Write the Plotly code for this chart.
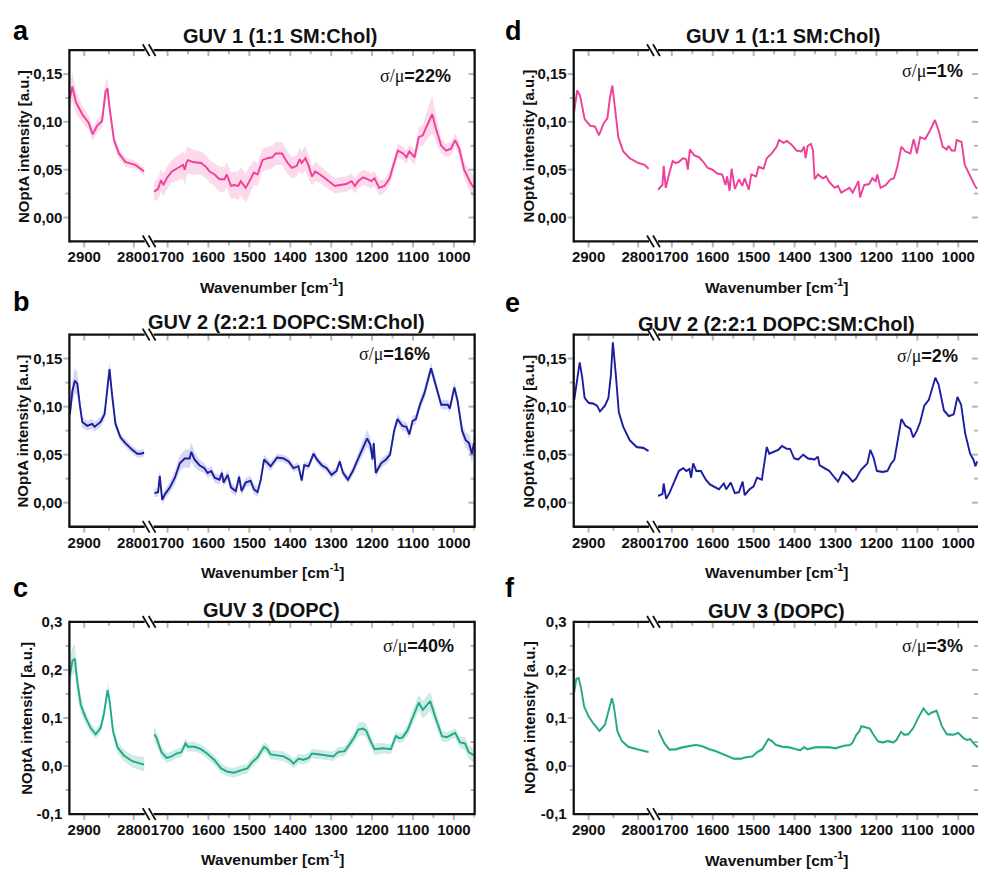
import plotly.graph_objects as go

W, H = 984, 875

# ---------------- data ----------------
# Panel a: GUV 1 (1:1 SM:Chol), averaged, sigma/mu = 22%
wn_a1 = [2929, 2924, 2917, 2904, 2891, 2883, 2874, 2864, 2857, 2853, 2849, 2840, 2830, 2817, 2797, 2779]
int_a1 = [0.125, 0.137, 0.121, 0.108, 0.099, 0.087, 0.096, 0.101, 0.132, 0.135, 0.115, 0.081, 0.067, 0.058, 0.055, 0.048]
sd_a1 = [0.013, 0.015, 0.012, 0.009, 0.007, 0.007, 0.007, 0.007, 0.010, 0.010, 0.009, 0.006, 0.005, 0.005, 0.004, 0.004]
wn_a2 = [1733, 1723, 1716, 1710, 1702, 1690, 1674, 1662, 1658, 1654, 1650, 1638, 1618, 1606, 1597, 1585, 1573, 1561, 1555, 1545,
         1537, 1527, 1521, 1509, 1501, 1489, 1480, 1468, 1456, 1444, 1436, 1420, 1408, 1396, 1384, 1377, 1372, 1363, 1355, 1347,
         1339, 1327, 1315, 1303, 1291, 1279, 1263, 1250, 1242, 1234, 1222, 1210, 1202, 1194, 1183, 1170, 1157, 1149, 1137, 1124,
         1116, 1109, 1096, 1086, 1076, 1068, 1053, 1044, 1031, 1019, 1007, 997, 987, 975, 967, 959, 951]
int_a2 = [0.027, 0.030, 0.039, 0.034, 0.041, 0.048, 0.052, 0.055, 0.050, 0.057, 0.060, 0.058, 0.057, 0.053, 0.048, 0.045, 0.040, 0.040, 0.045, 0.033,
          0.034, 0.033, 0.038, 0.031, 0.037, 0.047, 0.045, 0.060, 0.062, 0.063, 0.067, 0.067, 0.058, 0.052, 0.054, 0.061, 0.057, 0.062, 0.054, 0.043,
          0.048, 0.045, 0.041, 0.037, 0.033, 0.034, 0.035, 0.038, 0.033, 0.038, 0.042, 0.040, 0.038, 0.041, 0.031, 0.033, 0.041, 0.053, 0.070, 0.067,
          0.063, 0.069, 0.063, 0.084, 0.086, 0.094, 0.108, 0.093, 0.075, 0.070, 0.072, 0.081, 0.072, 0.050, 0.043, 0.036, 0.031]
sd_a2 = [0.010, 0.011, 0.012, 0.012, 0.012, 0.012, 0.013, 0.014, 0.016, 0.015, 0.014, 0.013, 0.012, 0.012, 0.012, 0.012, 0.013, 0.013, 0.013, 0.014,
         0.014, 0.015, 0.015, 0.015, 0.015, 0.013, 0.012, 0.012, 0.012, 0.012, 0.012, 0.012, 0.012, 0.011, 0.011, 0.012, 0.012, 0.013, 0.012, 0.010,
         0.010, 0.009, 0.009, 0.008, 0.008, 0.008, 0.008, 0.008, 0.008, 0.008, 0.008, 0.008, 0.008, 0.008, 0.008, 0.007, 0.007, 0.007, 0.007, 0.007,
         0.007, 0.007, 0.008, 0.010, 0.011, 0.014, 0.020, 0.014, 0.008, 0.007, 0.007, 0.007, 0.008, 0.009, 0.010, 0.011, 0.012]

# Panel b: GUV 2 (2:2:1 DOPC:SM:Chol), averaged, sigma/mu = 16%
wn_b1 = [2929, 2924, 2919, 2914, 2909, 2904, 2894, 2884, 2879, 2867, 2859, 2854, 2849, 2844, 2837, 2827, 2817, 2803, 2793, 2786, 2779]
int_b1 = [0.092, 0.116, 0.127, 0.124, 0.102, 0.084, 0.080, 0.082, 0.079, 0.084, 0.092, 0.116, 0.139, 0.113, 0.082, 0.068, 0.062, 0.055, 0.051, 0.051, 0.052]
sd_b1 = [0.008, 0.011, 0.013, 0.012, 0.008, 0.006, 0.005, 0.005, 0.005, 0.005, 0.006, 0.007, 0.008, 0.007, 0.005, 0.004, 0.004, 0.004, 0.004, 0.004, 0.004]
wn_b2 = [1732, 1723, 1719, 1713, 1706, 1694, 1682, 1670, 1658, 1646, 1642, 1634, 1622, 1610, 1602, 1593, 1585, 1573, 1567, 1563,
         1553, 1545, 1533, 1525, 1519, 1509, 1497, 1489, 1480, 1472, 1464, 1456, 1448, 1432, 1416, 1404, 1392, 1380, 1372, 1366,
         1355, 1343, 1335, 1323, 1311, 1299, 1287, 1279, 1271, 1259, 1247, 1234, 1222, 1212, 1204, 1199, 1196, 1191, 1178, 1166,
         1156, 1146, 1138, 1126, 1116, 1109, 1101, 1093, 1083, 1072, 1056, 1049, 1031, 1015, 1010, 999, 991, 980, 971, 963, 956, 951]
int_b2 = [0.010, 0.011, 0.028, 0.003, 0.009, 0.016, 0.026, 0.041, 0.046, 0.046, 0.053, 0.045, 0.039, 0.036, 0.031, 0.033, 0.026, 0.024, 0.031, 0.021,
          0.029, 0.016, 0.012, 0.027, 0.012, 0.021, 0.023, 0.014, 0.011, 0.024, 0.045, 0.041, 0.038, 0.047, 0.046, 0.043, 0.036, 0.038, 0.023, 0.039,
          0.038, 0.051, 0.045, 0.039, 0.036, 0.029, 0.033, 0.043, 0.031, 0.024, 0.033, 0.046, 0.058, 0.067, 0.060, 0.045, 0.062, 0.031, 0.041, 0.045,
          0.050, 0.075, 0.087, 0.080, 0.079, 0.071, 0.085, 0.087, 0.102, 0.114, 0.140, 0.130, 0.102, 0.102, 0.098, 0.120, 0.106, 0.075, 0.065, 0.062, 0.051, 0.062]
sd_b2 = [0.004, 0.005, 0.006, 0.005, 0.005, 0.006, 0.007, 0.008, 0.009, 0.010, 0.010, 0.008, 0.006, 0.005, 0.005, 0.005, 0.005, 0.005, 0.005, 0.005,
         0.005, 0.005, 0.005, 0.005, 0.005, 0.005, 0.005, 0.005, 0.005, 0.005, 0.005, 0.005, 0.005, 0.004, 0.004, 0.004, 0.004, 0.004, 0.004, 0.004,
         0.004, 0.004, 0.004, 0.004, 0.004, 0.004, 0.004, 0.004, 0.004, 0.004, 0.005, 0.006, 0.008, 0.009, 0.008, 0.006, 0.006, 0.005, 0.005, 0.005,
         0.005, 0.005, 0.005, 0.005, 0.005, 0.005, 0.005, 0.005, 0.006, 0.006, 0.006, 0.006, 0.005, 0.005, 0.005, 0.006, 0.006, 0.007, 0.008, 0.009, 0.010, 0.011]

# Panel c: GUV 3 (DOPC), averaged, sigma/mu = 40%
wn_c1 = [2929, 2924, 2919, 2914, 2907, 2897, 2887, 2877, 2867, 2860, 2853, 2849, 2842, 2833, 2820, 2803, 2779]
int_c1 = [0.188, 0.219, 0.223, 0.175, 0.127, 0.100, 0.079, 0.066, 0.079, 0.110, 0.158, 0.137, 0.073, 0.039, 0.022, 0.010, 0.003]
sd_c1 = [0.025, 0.030, 0.030, 0.025, 0.018, 0.012, 0.010, 0.009, 0.010, 0.012, 0.015, 0.014, 0.012, 0.012, 0.012, 0.013, 0.015]
wn_c2 = [1733, 1727, 1715, 1702, 1690, 1678, 1666, 1656, 1650, 1634, 1618, 1602, 1585, 1569, 1553, 1537, 1521, 1505, 1493, 1480,
         1470, 1464, 1456, 1448, 1432, 1416, 1400, 1392, 1380, 1368, 1355, 1347, 1327, 1307, 1295, 1283, 1267, 1255, 1242, 1234,
         1222, 1214, 1206, 1194, 1174, 1154, 1142, 1134, 1126, 1114, 1098, 1086, 1076, 1066, 1058, 1046, 1029, 1017, 997, 985, 973, 964, 951]
int_c2 = [0.066, 0.059, 0.029, 0.017, 0.020, 0.026, 0.029, 0.047, 0.040, 0.040, 0.035, 0.025, 0.012, -0.005, -0.012, -0.014, -0.009, -0.005, 0.008, 0.018,
          0.032, 0.040, 0.035, 0.024, 0.022, 0.020, 0.012, 0.005, 0.015, 0.013, 0.017, 0.026, 0.024, 0.022, 0.020, 0.029, 0.031, 0.045, 0.062, 0.076,
          0.078, 0.073, 0.056, 0.035, 0.037, 0.035, 0.062, 0.058, 0.059, 0.073, 0.107, 0.132, 0.117, 0.127, 0.135, 0.103, 0.062, 0.060, 0.069, 0.049, 0.047, 0.029, 0.022]
sd_c2 = [0.015, 0.014, 0.012, 0.010, 0.010, 0.010, 0.010, 0.010, 0.010, 0.010, 0.010, 0.010, 0.010, 0.010, 0.010, 0.010, 0.010, 0.010, 0.010, 0.010,
         0.010, 0.010, 0.010, 0.010, 0.010, 0.010, 0.010, 0.010, 0.010, 0.010, 0.010, 0.010, 0.010, 0.010, 0.010, 0.010, 0.010, 0.011, 0.012, 0.014,
         0.014, 0.014, 0.013, 0.012, 0.011, 0.010, 0.010, 0.010, 0.010, 0.012, 0.015, 0.017, 0.018, 0.020, 0.020, 0.017, 0.012, 0.010, 0.010, 0.012, 0.013, 0.014, 0.015]

# Panel d: GUV 1, sigma/mu = 1%
wn_d1 = [2929, 2923, 2917, 2908, 2897, 2887, 2879, 2870, 2862, 2857, 2852, 2847, 2840, 2830, 2817, 2800, 2787, 2779]
int_d1 = [0.111, 0.133, 0.127, 0.103, 0.096, 0.095, 0.086, 0.098, 0.104, 0.125, 0.138, 0.118, 0.084, 0.069, 0.062, 0.057, 0.055, 0.051]
wn_d2 = [1734, 1723, 1720, 1715, 1707, 1698, 1691, 1683, 1673, 1665, 1661, 1656, 1645, 1633, 1621, 1613, 1601, 1589, 1577, 1569,
         1565, 1559, 1554, 1546, 1536, 1528, 1522, 1512, 1506, 1494, 1488, 1476, 1468, 1456, 1444, 1438, 1427, 1419, 1407, 1395,
         1383, 1377, 1373, 1368, 1360, 1355, 1351, 1343, 1331, 1323, 1315, 1302, 1294, 1286, 1274, 1266, 1258, 1250, 1244, 1240,
         1230, 1218, 1210, 1202, 1198, 1190, 1177, 1165, 1157, 1149, 1139, 1129, 1117, 1109, 1101, 1093, 1081, 1069, 1057, 1048,
         1038, 1028, 1024, 1016, 1008, 1004, 992, 984, 971, 959, 954]
int_d2 = [0.029, 0.034, 0.054, 0.031, 0.045, 0.059, 0.057, 0.058, 0.062, 0.061, 0.050, 0.071, 0.065, 0.063, 0.057, 0.052, 0.050, 0.046, 0.045, 0.034,
          0.043, 0.028, 0.051, 0.030, 0.040, 0.033, 0.041, 0.029, 0.045, 0.043, 0.053, 0.051, 0.062, 0.067, 0.074, 0.081, 0.078, 0.080, 0.076, 0.070,
          0.069, 0.074, 0.062, 0.075, 0.077, 0.070, 0.040, 0.045, 0.041, 0.043, 0.037, 0.031, 0.033, 0.026, 0.029, 0.031, 0.026, 0.033, 0.038, 0.021,
          0.034, 0.035, 0.041, 0.038, 0.045, 0.031, 0.034, 0.040, 0.041, 0.053, 0.074, 0.069, 0.067, 0.082, 0.067, 0.084, 0.082, 0.091, 0.102, 0.091,
          0.074, 0.071, 0.075, 0.070, 0.070, 0.081, 0.079, 0.055, 0.043, 0.033, 0.030]
sd_d = 0.0012

# Panel e: GUV 2, sigma/mu = 2%
wn_e1 = [2929, 2923, 2918, 2913, 2908, 2900, 2890, 2883, 2877, 2867, 2860, 2855, 2851, 2845, 2839, 2830, 2817, 2803, 2789, 2783, 2779]
int_e1 = [0.107, 0.130, 0.146, 0.131, 0.109, 0.104, 0.103, 0.101, 0.095, 0.101, 0.109, 0.133, 0.167, 0.133, 0.094, 0.079, 0.065, 0.058, 0.057, 0.055, 0.054]
wn_e2 = [1734, 1723, 1720, 1714, 1706, 1694, 1683, 1672, 1665, 1657, 1653, 1648, 1640, 1629, 1617, 1607, 1597, 1585, 1573, 1567,
         1556, 1546, 1536, 1527, 1522, 1510, 1500, 1492, 1480, 1468, 1462, 1452, 1440, 1431, 1419, 1411, 1401, 1391, 1379, 1367,
         1351, 1343, 1339, 1327, 1315, 1302, 1294, 1282, 1270, 1258, 1250, 1238, 1230, 1222, 1215, 1207, 1199, 1185, 1173, 1165,
         1156, 1148, 1139, 1129, 1117, 1110, 1101, 1093, 1083, 1072, 1064, 1056, 1048, 1035, 1023, 1011, 1002, 993, 983, 971, 963, 958, 954]
int_e2 = [0.007, 0.009, 0.020, 0.004, 0.010, 0.022, 0.033, 0.036, 0.033, 0.035, 0.026, 0.041, 0.033, 0.033, 0.024, 0.019, 0.017, 0.014, 0.020, 0.014,
          0.021, 0.010, 0.011, 0.022, 0.008, 0.014, 0.017, 0.026, 0.024, 0.058, 0.051, 0.053, 0.055, 0.059, 0.056, 0.056, 0.046, 0.045, 0.050, 0.046,
          0.045, 0.048, 0.039, 0.036, 0.033, 0.026, 0.022, 0.032, 0.028, 0.022, 0.025, 0.034, 0.038, 0.041, 0.055, 0.047, 0.033, 0.032, 0.033, 0.040,
          0.045, 0.065, 0.087, 0.080, 0.077, 0.068, 0.075, 0.084, 0.101, 0.107, 0.119, 0.130, 0.123, 0.096, 0.090, 0.092, 0.110, 0.102, 0.072, 0.051, 0.045, 0.038, 0.043]
sd_e = 0.0015

# Panel f: GUV 3, sigma/mu = 3%
wn_f1 = [2929, 2925, 2920, 2915, 2909, 2900, 2890, 2878, 2867, 2860, 2853, 2849, 2842, 2833, 2820, 2803, 2779]
int_f1 = [0.154, 0.181, 0.183, 0.161, 0.124, 0.103, 0.088, 0.073, 0.086, 0.113, 0.141, 0.124, 0.073, 0.052, 0.040, 0.035, 0.029]
wn_f2 = [1734, 1726, 1718, 1706, 1690, 1673, 1657, 1641, 1625, 1609, 1593, 1577, 1560, 1548, 1532, 1520, 1503, 1491, 1479, 1471,
         1464, 1454, 1446, 1430, 1414, 1398, 1386, 1377, 1369, 1349, 1333, 1317, 1300, 1280, 1264, 1258, 1249, 1241, 1237, 1225,
         1216, 1208, 1196, 1184, 1172, 1159, 1151, 1140, 1132, 1122, 1110, 1098, 1085, 1073, 1065, 1053, 1040, 1028, 1012, 1000,
         987, 979, 971, 960, 952]
int_f2 = [0.075, 0.062, 0.047, 0.034, 0.035, 0.039, 0.042, 0.044, 0.041, 0.035, 0.031, 0.025, 0.020, 0.015, 0.015, 0.018, 0.020, 0.029, 0.035, 0.045,
          0.056, 0.051, 0.044, 0.040, 0.039, 0.035, 0.033, 0.039, 0.035, 0.039, 0.039, 0.039, 0.037, 0.042, 0.044, 0.049, 0.065, 0.073, 0.083, 0.081,
          0.078, 0.066, 0.051, 0.049, 0.052, 0.049, 0.054, 0.071, 0.065, 0.066, 0.079, 0.100, 0.120, 0.107, 0.111, 0.115, 0.083, 0.066, 0.065, 0.069,
          0.058, 0.054, 0.056, 0.045, 0.039]
sd_f = 0.003

titles = ["GUV 1 (1:1 SM:Chol)", "GUV 2 (2:2:1 DOPC:SM:Chol)", "GUV 3 (DOPC)"]
ratios = ["22%", "16%", "40%", "1%", "2%", "3%"]
letters = ["a", "b", "c", "d", "e", "f"]
xtick_seg1 = [2900, 2800]
xminor_seg1 = [2850]
xtick_seg2 = [1700, 1600, 1500, 1400, 1300, 1200, 1100, 1000]
xminor_seg2 = [1650, 1550, 1450, 1350, 1250, 1150, 1050, 950]
ytick_small = [0.0, 0.05, 0.10, 0.15]
ytick_small_text = ["0,00", "0,05", "0,10", "0,15"]
yminor_small = [-0.025, 0.025, 0.075, 0.125, 0.175]
ytick_big = [-0.1, 0.0, 0.1, 0.2, 0.3]
ytick_big_text = ["-0,1", "0,0", "0,1", "0,2", "0,3"]
yminor_big = [-0.05, 0.05, 0.15, 0.25]

# ---------------- styling / geometry ----------------
PINK, NAVY, TEAL = "#EE3F99", "#1B1F9E", "#21A98A"
BANDS = {PINK: "rgba(238,63,153,0.20)", NAVY: "rgba(70,70,210,0.22)", TEAL: "rgba(33,169,138,0.22)"}
FONT = "Arial, 'Liberation Sans', sans-serif"
AX = "#111111"
TXT = "#111111"
FRAME_W = 2.3
TICK_W = 2.0

def px(x):
    return x / W

def py(y):
    return 1 - y / H

COLS = [dict(x0=67, s1e=143, s2s=152, x1=476), dict(x0=576, s1e=652, s2s=661, x1=984)]
ROWS = [(42, 237), (332, 528), (625, 821)]
PX_PER_CM1 = 0.5
PX_PER_CM2 = 0.4129
START1, START2 = 2930, 1734

panels = [
    dict(col=0, row=0, color=PINK, s1=(wn_a1, int_a1, sd_a1), s2=(wn_a2, int_a2, sd_a2)),
    dict(col=0, row=1, color=NAVY, s1=(wn_b1, int_b1, sd_b1), s2=(wn_b2, int_b2, sd_b2)),
    dict(col=0, row=2, color=TEAL, s1=(wn_c1, int_c1, sd_c1), s2=(wn_c2, int_c2, sd_c2)),
    dict(col=1, row=0, color=PINK, s1=(wn_d1, int_d1, sd_d), s2=(wn_d2, int_d2, sd_d)),
    dict(col=1, row=1, color=NAVY, s1=(wn_e1, int_e1, sd_e), s2=(wn_e2, int_e2, sd_e)),
    dict(col=1, row=2, color=TEAL, s1=(wn_f1, int_f1, sd_f), s2=(wn_f2, int_f2, sd_f)),
]

# text positions (pixels)
title_pos = [(280, 28), (286, 319), (271, 613), (787, 28), (781, 321), (781, 614)]
letter_pos = [(18, 22), (19, 299), (18, 590), (515, 22), (514, 300), (512, 590)]
ratio_pos = [(454, 68), (433, 352), (457, 650), (971, 63), (966, 354), (971, 650)]
ytitle_pos = [(20, 140), (20, 430), (24, 723), (530, 140), (530, 431), (532, 723)]
xtitle_pos = [(271, 282), (272, 573), (272, 866), (781, 282), (781, 573), (781, 867)]

fig = go.Figure()
layout = dict(width=W, height=H, margin=dict(l=0, r=0, t=0, b=0, pad=0),
              paper_bgcolor="white", plot_bgcolor="rgba(0,0,0,0)", showlegend=False,
              font=dict(family=FONT, color=TXT), template="simple_white")
shapes, annotations = [], []

def xname(k):
    return "xaxis" if k == 1 else f"xaxis{k}"

def yname(k):
    return "yaxis" if k == 1 else f"yaxis{k}"

def xref(k):
    return "x" if k == 1 else f"x{k}"

def yref(k):
    return "y" if k == 1 else f"y{k}"

tickfont = dict(family=FONT, size=15, color=TXT)

def line_px(x0, y0, x1, y1, w=FRAME_W):
    return dict(type="line", xref="paper", yref="paper", x0=px(x0), y0=py(y0), x1=px(x1), y1=py(y1),
                line=dict(color=AX, width=w), layer="above", opacity=1)

for p, pan in enumerate(panels):
    c = COLS[pan["col"]]
    top, bot = ROWS[pan["row"]]
    big = pan["row"] == 2
    ix1, ix2 = 2 * p + 1, 2 * p + 2
    iy = p + 1
    r1 = [START1, START1 - (c["s1e"] - c["x0"]) / PX_PER_CM1]
    r2 = [START2, START2 - (c["x1"] - c["s2s"]) / PX_PER_CM2]
    yr = [-0.1, 0.3] if big else [-0.025, 0.175]
    tv = ytick_big if big else ytick_small
    tt = ["<b>%s</b>" % t for t in (ytick_big_text if big else ytick_small_text)]
    ym = yminor_big if big else yminor_small

    base = dict(showgrid=False, zeroline=False, showline=False, ticks="", tickfont=tickfont)
    d1 = [px(c["x0"]), px(c["s1e"])]
    d2 = [px(c["s2s"]), px(c["x1"])]
    segs = ((ix1, d1, r1, xtick_seg1, xminor_seg1), (ix2, d2, r2, xtick_seg2, xminor_seg2))
    for k, dom, rng, labs, mins in segs:
        layout[xname(k)] = dict(base, domain=dom, range=rng, anchor=yref(iy), side="bottom",
                                tickmode="array", tickvals=labs, ticktext=["<b>%d</b>" % v for v in labs],
                                ticklabelstandoff=5)
    layout[yname(iy)] = dict(base, domain=[py(bot), py(top)], range=yr, anchor=xref(ix1), side="left",
                             tickmode="array", tickvals=tv, ticktext=tt, ticklabelstandoff=6)

    # frame (drawn per segment so the break leaves a gap)
    for a, b in ((c["x0"], c["s1e"]), (c["s2s"], c["x1"])):
        shapes.append(line_px(a, top, b, top))
        shapes.append(line_px(a, bot, b, bot))
    shapes.append(line_px(c["x0"], top - 1.1, c["x0"], bot + 1.1))
    if pan["col"] == 0:
        shapes.append(line_px(c["x1"], top - 1.1, c["x1"], bot + 1.1))

    # ticks: bottom/left outward, top/right inward, positioned by the axis scales
    for k, dom, rng, labs, mins in segs:
        lo, hi = min(rng), max(rng)
        for vals, ln in ((labs, 6), (mins, 4)):
            for v in vals:
                if not (lo <= v <= hi):
                    continue
                for anchor in (0, 1):
                    shapes.append(dict(type="line", xref=xref(k), yref=yref(iy) + " domain",
                                       ysizemode="pixel", yanchor=anchor, x0=v, x1=v, y0=0, y1=-ln,
                                       line=dict(color=AX, width=TICK_W), layer="above"))
    for vals, ln in ((tv, 6), (ym, 4)):
        for v in vals:
            if not (yr[0] < v < yr[1]):
                continue
            shapes.append(dict(type="line", xref=xref(ix1) + " domain", yref=yref(iy),
                               xsizemode="pixel", xanchor=0, x0=0, x1=-ln, y0=v, y1=v,
                               line=dict(color=AX, width=TICK_W), layer="above"))
            shapes.append(dict(type="line", xref=xref(ix2) + " domain", yref=yref(iy),
                               xsizemode="pixel", xanchor=1, x0=0, x1=-ln, y0=v, y1=v,
                               line=dict(color=AX, width=TICK_W), layer="above"))

    col = pan["color"]
    for seg, xa in ((pan["s1"], ix1), (pan["s2"], ix2)):
        wn, mean, sd = seg
        sds = sd if isinstance(sd, list) else [sd] * len(wn)
        upper = [m + s for m, s in zip(mean, sds)]
        lower = [m - s for m, s in zip(mean, sds)]
        fig.add_trace(go.Scatter(x=wn + wn[::-1], y=upper + lower[::-1], fill="toself",
                                 fillcolor=BANDS[col], line=dict(width=0), mode="lines",
                                 xaxis=xref(xa), yaxis=yref(iy), hoverinfo="skip"))
        fig.add_trace(go.Scatter(x=wn, y=mean, mode="lines", line=dict(color=col, width=1.9),
                                 xaxis=xref(xa), yaxis=yref(iy), hoverinfo="skip"))

    # axis-break marks at top and bottom
    for yy in (top, bot):
        for cx in (c["s1e"] + 1.5, c["s2s"] - 1.5):
            shapes.append(line_px(cx - 3.5, yy - 6, cx + 3.5, yy + 6, 1.8))

    tx, ty = title_pos[p]
    annotations.append(dict(x=px(tx), y=py(ty), xref="paper", yref="paper", text=f"<b>{titles[pan['row']]}</b>",
                            showarrow=False, xanchor="center", yanchor="middle",
                            font=dict(family=FONT, size=20, color=TXT)))
    lx, ly = letter_pos[p]
    annotations.append(dict(x=px(lx), y=py(ly), xref="paper", yref="paper", text=f"<b>{letters[p]}</b>",
                            showarrow=False, xanchor="center", yanchor="middle",
                            font=dict(family=FONT, size=27, color="#000")))
    rx, ry = ratio_pos[p]
    annotations.append(dict(x=px(rx), y=py(ry), xref="paper", yref="paper",
                            text=f"<span style=\"font-family:'Liberation Serif', serif\">σ/μ</span><b>={ratios[p]}</b>",
                            showarrow=False, xanchor="right", yanchor="middle",
                            font=dict(family=FONT, size=18, color=TXT)))
    yx, yy_ = ytitle_pos[p]
    annotations.append(dict(x=px(yx), y=py(yy_), xref="paper", yref="paper", text="<b>NOptA intensity [a.u.]</b>",
                            showarrow=False, textangle=-90, xanchor="center", yanchor="middle",
                            font=dict(family=FONT, size=15, color=TXT)))
    xx, xy = xtitle_pos[p]
    annotations.append(dict(x=px(xx), y=py(xy), xref="paper", yref="paper",
                            text="<b>Wavenumber [cm<sup>-1</sup>]</b>",
                            showarrow=False, xanchor="center", yanchor="middle",
                            font=dict(family=FONT, size=15.5, color=TXT)))

layout["shapes"] = shapes
layout["annotations"] = annotations
fig.update_layout(**layout)
fig.write_html("out.html")
